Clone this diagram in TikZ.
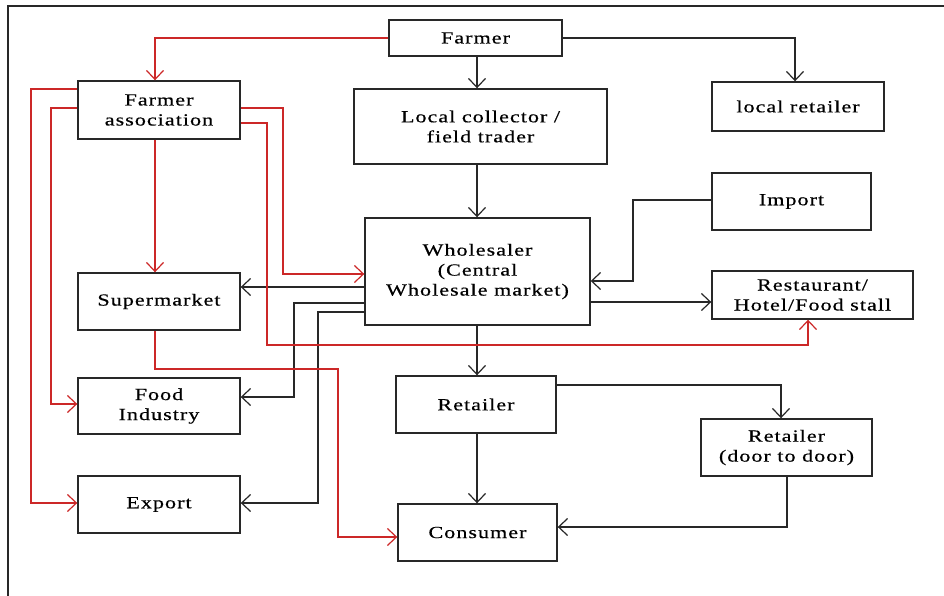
\documentclass[tikz,border=0pt]{standalone}
\usepackage{fontspec}
\setmainfont{Liberation Serif}[FakeStretch=1.3,LetterSpace=6,FakeBold=0.4]
\usetikzlibrary{arrows.meta}
\definecolor{rd}{RGB}{204,40,40}
\definecolor{dk}{RGB}{40,40,40}
\begin{document}
\begin{tikzpicture}[x=1pt,y=-1pt,
  box/.style={draw=dk,line width=1.4pt,fill=white,align=center,inner sep=0pt,
    font=\fontsize{17}{20}\selectfont},
  blk/.style={draw=dk,line width=1.3pt,-{Straight Barb[length=9pt,width=17pt,line width=1.2pt]}},
  red/.style={draw=rd,line width=1.3pt,-{Straight Barb[length=9pt,width=17pt,line width=1.2pt]}}]
\useasboundingbox (0,0) rectangle (944,596);
\draw[dk,line width=1.5pt] (8,596) -- (8,6) -- (944,6);
% nodes
\node[box,minimum width=173pt,minimum height=36pt] (farmer) at (475.5,38) {Farmer};
\node[box,minimum width=253pt,minimum height=75pt] (lc) at (480.5,126.5) {Local collector /\\field trader};
\node[box,minimum width=172pt,minimum height=49pt] (lr) at (798,106.5) {local retailer};
\node[box,minimum width=159pt,minimum height=57pt] (imp) at (791.5,201.5) {Import};
\node[box,minimum width=162pt,minimum height=58pt] (fa) at (159,110) {Farmer\\association};
\node[box,minimum width=162pt,minimum height=57pt] (sm) at (159,301.5) {Supermarket};
\node[box,minimum width=162pt,minimum height=56pt] (fi) at (159,406) {Food\\Industry};
\node[box,minimum width=162pt,minimum height=57pt] (ex) at (159,504.5) {Export};
\node[box,minimum width=225pt,minimum height=107pt] (ws) at (477.5,271.5) {Wholesaler\\(Central\\Wholesale market)};
\node[box,minimum width=201pt,minimum height=48pt] (rest) at (812.5,295) {Restaurant/\\Hotel/Food stall};
\node[box,minimum width=160pt,minimum height=57pt] (ret) at (476,404.5) {Retailer};
\node[box,minimum width=171pt,minimum height=57pt] (rdd) at (786.5,447.5) {Retailer\\(door to door)};
\node[box,minimum width=159pt,minimum height=57pt] (con) at (477.5,532.5) {Consumer};
% black connectors
\draw[blk] (farmer.south -| 477,0) -- (lc.north -| 477,0);
\draw[blk] (farmer.east) -- (795,38) -- (lr.north -| 795,0);
\draw[blk] (lc.south -| 477,0) -- (ws.north -| 477,0);
\draw[blk] (imp.west |- 0,200) -- (633,200) -- (633,281) -- (ws.east |- 0,281);
\draw[blk] (ws.west |- 0,287) -- (sm.east |- 0,287);
\draw[blk] (ws.west |- 0,303) -- (294,303) -- (294,397) -- (fi.east |- 0,397);
\draw[blk] (ws.west |- 0,312) -- (318,312) -- (318,503) -- (ex.east |- 0,503);
\draw[blk] (ws.east |- 0,302) -- (rest.west |- 0,302);
\draw[blk] (ws.south -| 477,0) -- (ret.north -| 477,0);
\draw[blk] (ret.east |- 0,385) -- (781,385) -- (rdd.north -| 781,0);
\draw[blk] (ret.south -| 477,0) -- (con.north -| 477,0);
\draw[blk] (rdd.south -| 787,0) -- (787,527) -- (con.east |- 0,527);
% red connectors
\draw[red] (farmer.west) -- (155,38) -- (fa.north -| 155,0);
\draw[red] (fa.south -| 155,0) -- (sm.north -| 155,0);
\draw[red] (fa.west |- 0,89) -- (31,89) -- (31,503) -- (ex.west |- 0,503);
\draw[red] (fa.west |- 0,108) -- (51,108) -- (51,404) -- (fi.west |- 0,404);
\draw[red] (fa.east |- 0,108) -- (283,108) -- (283,274) -- (ws.west |- 0,274);
\draw[red] (fa.east |- 0,123) -- (267,123) -- (267,345) -- (808,345) -- (rest.south -| 808,0);
\draw[red] (sm.south -| 155,0) -- (155,369) -- (338,369) -- (338,537) -- (con.west |- 0,537);
\end{tikzpicture}
\end{document}
